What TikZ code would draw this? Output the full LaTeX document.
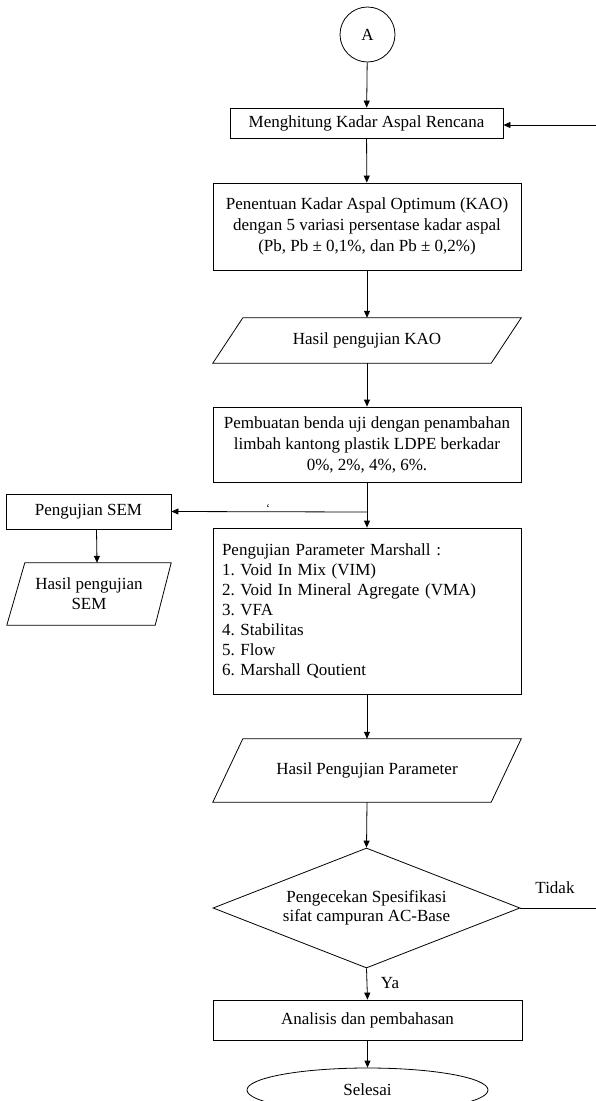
\documentclass[tikz,border=0pt]{standalone}
\usepackage{fontspec}
\setmainfont{Liberation Serif}
\usetikzlibrary{arrows.meta,shapes.geometric}
\frenchspacing
\begin{document}
\begin{tikzpicture}[x=1pt,y=-1pt,
  every node/.style={font=\fontsize{17}{21}\selectfont, inner sep=0pt},
  proc/.style={draw, line width=0.8pt, align=center},
  io/.style={align=center},
  arr/.style={line width=0.8pt, -{Triangle[length=7pt,width=6pt]}},
  ln/.style={line width=0.8pt}]
\useasboundingbox (0,0) rectangle (596,1101);

% nodes
\node[draw, line width=0.8pt, circle, minimum size=55pt] (A) at (367.5,34.5) {A};
\node[proc, minimum width=273pt, minimum height=30pt] (b1) at (366.5,123) {Menghitung Kadar Aspal Rencana};
\node[proc, minimum width=308pt, minimum height=87pt] (b2) at (367,226.5)
  {Penentuan Kadar Aspal Optimum (KAO)\\dengan 5 variasi persentase kadar aspal\\(Pb, Pb ± 0,1\%, dan Pb ± 0,2\%)};
\node[io, minimum width=308pt, minimum height=45pt] (kao) at (367,340.5) {Hasil pengujian KAO};
\node[proc, minimum width=308pt, minimum height=75pt] (b3) at (367,444.5)
  {Pembuatan benda uji dengan penambahan\\limbah kantong plastik LDPE berkadar\\0\%, 2\%, 4\%, 6\%.};
\coordinate (j) at (367,512);
\node[proc, minimum width=165pt, minimum height=35pt] (sem) at (88.5,511.5) {Pengujian SEM};
\node[io, minimum width=164pt, minimum height=62pt, font=\fontsize{17}{20}\selectfont] (semres) at (89,594) {Hasil pengujian\\SEM};
\node[font=\fontsize{12}{12}\selectfont] (tick) at (268,508) {`};
\node[draw, line width=0.8pt, minimum width=308pt, minimum height=166pt, text width=290pt, inner xsep=9pt, align=left, font=\fontsize{17}{20}\selectfont] (b4) at (367,611)
  {Pengujian Parameter Marshall :\\1. Void In Mix (VIM)\\2. Void In Mineral Agregate (VMA)\\3. VFA\\4. Stabilitas\\5. Flow\\6. Marshall Qoutient};
\node[io, minimum width=308pt, minimum height=63pt] (par) at (367,770.5) {Hasil Pengujian Parameter};
\node[draw, line width=0.8pt, diamond, aspect=2.56, minimum width=307pt, minimum height=120pt, align=center, font=\fontsize{17}{19}\selectfont] (d) at (366.5,908)
  {Pengecekan Spesifikasi\\sifat campuran AC-Base};
\node[proc, minimum width=309pt, minimum height=40pt] (b5) at (367.5,1020) {Analisis dan pembahasan};
\node[draw, line width=0.8pt, ellipse, minimum width=241pt, minimum height=44pt] (end) at (367.5,1090) {Selesai};
\node (tidak) at (555,888) {Tidak};
\node (ya) at (390,983) {Ya};
\coordinate (rin) at (596,125);
\coordinate (rout) at (596,908);

% parallelogram outlines
\draw[ln] ([xshift=30pt]kao.north west) -- (kao.north east) -- ([xshift=-30pt]kao.south east) -- (kao.south west) -- cycle;
\draw[ln] ([xshift=30pt]par.north west) -- (par.north east) -- ([xshift=-30pt]par.south east) -- (par.south west) -- cycle;
\draw[ln] ([xshift=18pt]semres.north west) -- (semres.north east) -- ([xshift=-16pt]semres.south east) -- (semres.south west) -- cycle;

% connectors
\draw[arr] (A) -- (b1);
\draw[arr] (rin) -- (b1.east |- rin);
\draw[arr] (b1) -- (b2);
\draw[arr] (b2) -- (kao.north);
\draw[arr] (kao.south) -- (b3);
\draw[ln] (b3.south) -- (j);
\draw[arr] (j) -- (b4.north);
\draw[arr] (j) -- (sem.east);
\draw[arr] ([xshift=8pt]sem.south) -- ([xshift=8pt]semres.north);
\draw[arr] (b4.south) -- (par.north);
\draw[arr] (par.south) -- (d.north);
\draw[ln] (d.east) -- (rout);
\draw[arr] (d.south) -- (b5.north);
\draw[arr] (b5.south) -- (end.north);
\end{tikzpicture}
\end{document}
